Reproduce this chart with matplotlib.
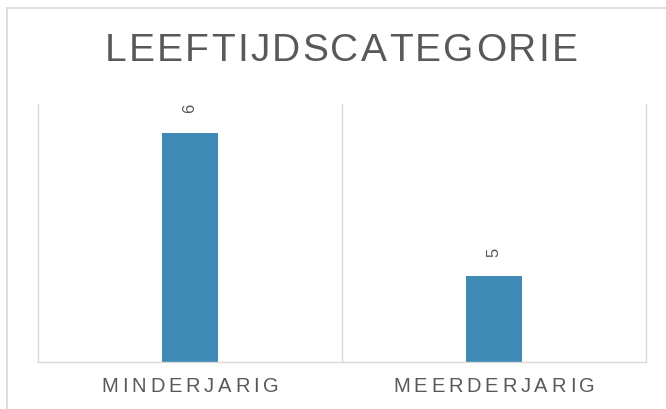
#!/usr/bin/env python3
import matplotlib
matplotlib.use('Agg')
import matplotlib.pyplot as plt
from matplotlib.lines import Line2D

plt.rc('font', family=['Liberation Sans', 'DejaVu Sans'])

title = 'LEEFTIJDSCATEGORIE'
categories = ['MINDERJARIG', 'MEERDERJARIG']
values = [6, 5]
ylim = (4.4, 6.2)

bar_color = '#3F89B5'
text_color = '#595959'
grid_color = '#D9D9D9'

W, H, DPI = 666, 409, 100


def tracked_text(fig, renderer, xc, y, s, size, spacing):
  # draw text char by char with extra letter spacing (pixel coords, y from top)
  widths = []
  for ch in s:
    t = fig.text(0, 0, ch, fontsize=size)
    widths.append(t.get_window_extent(renderer).width if ch != ' ' else size * 0.3)
    t.remove()
  total = sum(widths) + spacing * (len(s) - 1)
  x = xc - total / 2
  for ch, w in zip(s, widths):
    fig.text(x / W, 1 - y / H, ch, fontsize=size, color=text_color,
             ha='left', va='center')
    x += w + spacing


fig = plt.figure(figsize=(W / DPI, H / DPI), dpi=DPI)
renderer = fig.canvas.get_renderer()

# outer frame (only top and left edges visible)
fig.add_artist(Line2D([7 / W, 7 / W], [0, 1 - 8 / H], color=grid_color, lw=1.2,
                      transform=fig.transFigure))
fig.add_artist(Line2D([7 / W, 1], [1 - 8 / H, 1 - 8 / H], color=grid_color, lw=1.2,
                      transform=fig.transFigure))

ax = fig.add_axes([38 / W, 1 - 362 / H, 608 / W, 258 / H])
xs = list(range(len(categories)))
bars = ax.bar(xs, values, width=0.184, color=bar_color, zorder=2)
ax.set_xlim(-0.5, len(categories) - 0.5)
ax.set_ylim(*ylim)

for side in ['left', 'right', 'bottom']:
  ax.spines[side].set_color(grid_color)
  ax.spines[side].set_linewidth(1.0)
ax.spines['top'].set_visible(False)
for b in range(1, len(categories)):
  ax.axvline(b - 0.5, color=grid_color, lw=1.0, zorder=1)
ax.set_xticks([])
ax.set_yticks([])

for x, v in zip(xs, values):
  ax.annotate(str(v), (x, v), xytext=(0, 14), textcoords='offset points',
              ha='center', va='bottom', rotation=90, fontsize=12, color=text_color)

tracked_text(fig, renderer, 341, 51, title, 28, 2.3)
for x, c in zip(xs, categories):
  px = ax.transData.transform((x, ylim[0]))[0]
  tracked_text(fig, renderer, px, 386, c, 14.5, 3.8)

plt.savefig('out.png', dpi=DPI)
plt.close()
